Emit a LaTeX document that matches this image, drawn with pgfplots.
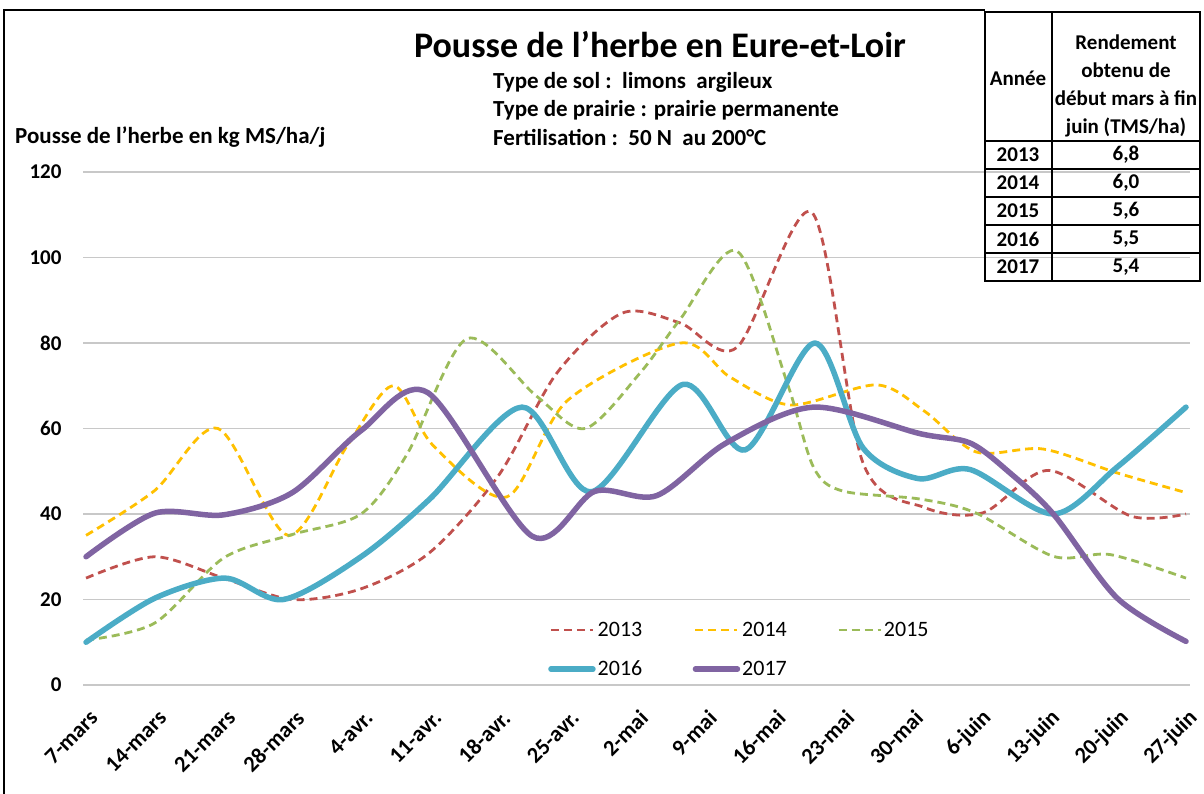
\documentclass[border=0pt]{standalone}
\usepackage{fontspec}
\setmainfont{Carlito}
\usepackage{pgfplots}
\pgfplotsset{compat=1.18}
\definecolor{c13}{HTML}{C0504D}
\definecolor{c14}{HTML}{FFC000}
\definecolor{c15}{HTML}{9BBB59}
\definecolor{c16}{HTML}{4BACC6}
\definecolor{c17}{HTML}{8064A2}
\definecolor{gridc}{HTML}{C8C8C8}
\begin{document}
\begin{tikzpicture}
\path[use as bounding box] (0bp,0bp) rectangle (1204bp,794bp);
\draw[line width=2.5bp] (4bp,0bp) -- (4bp,784bp) -- (985bp,784bp);
\begin{axis}[
  at={(83bp,109bp)}, anchor=south west,
  scale only axis, width=1107bp, height=513bp,
  xmin=-0.044, xmax=16.058, ymin=0, ymax=120,
  axis line style={draw=none},
  ytick={0,20,...,120},
  xtick={0,...,16},
  xticklabels={7-mars,14-mars,21-mars,28-mars,4-avr.,11-avr.,18-avr.,25-avr.,2-mai,9-mai,16-mai,23-mai,30-mai,6-juin,13-juin,20-juin,27-juin},
  major tick length=0,
  ymajorgrids, grid style={gridc, line width=1.3bp},
  /pgf/number format/assume math mode=true,
  yticklabel style={font=\fontsize{21bp}{24bp}\selectfont\bfseries, xshift=-18bp},
  xticklabel style={font=\fontsize{22.5bp}{26bp}\selectfont\bfseries, rotate=45, anchor=east, inner sep=2bp, xshift=-13bp, yshift=-26.4bp},
  clip=false,
  legend columns=3,
  legend style={draw=none, fill=none, at={(axis cs:6.72,15.2)}, anchor=north west,
    font=\fontsize{22bp}{26bp}\selectfont, row sep=19bp, inner sep=0pt},
  legend cell align=left,
  legend image code/.code={\draw[#1] (0bp,0bp) -- (42bp,0bp);},
]
\addplot[c13, line width=2.8bp, dash pattern=on 8bp off 5bp, smooth] coordinates {
(0,25)(1,30)(2,25)(3,20)(4,22.5)(5,31)(6,49)(6.85,73)(7.8,87)(8.64,84.7)(9.47,79)(10.56,110.5)(11.3,52)(12.2,41.5)(13.05,40.3)(14,50.2)(15.2,39.5)(16,40)};
\addlegendentry{\makebox[93bp][l]{2013}}
\addplot[c14, line width=2.8bp, dash pattern=on 8bp off 5bp, smooth] coordinates {
(0,35)(1,45.5)(1.92,60)(2.94,35)(3.8,56)(4.47,70)(5.05,56)(6.12,44)(7,66.5)(8.64,80)(9.37,72)(10.25,65.5)(11.5,70.2)(12.2,64)(12.95,54.5)(13.92,55.2)(15,49.6)(16,45)};
\addlegendentry{\makebox[93bp][l]{2014}}
\addplot[c15, line width=2.8bp, dash pattern=on 8bp off 5bp, smooth] coordinates {
(0,10.5)(1,14.5)(2,29.7)(3,35.2)(4,40)(4.67,54)(5.54,81)(6.55,67.6)(7.26,60)(8.06,73)(8.64,85.5)(9.47,101.5)(10.2,70.6)(10.58,51)(11.0,45.4)(12.13,43.5)(12.95,40.2)(14.07,30.1)(14.9,30.5)(16,25)};
\addlegendentry{\makebox[93bp][l]{2015}}
\addplot[c16, line width=5.5bp, line cap=round, line join=round, smooth] coordinates {
(0,10)(1,20.3)(2.02,25)(2.87,20)(4,30)(5,43.5)(6.34,65)(7.35,45.2)(8.68,70.3)(9.59,55)(10.6,80)(11.3,55.5)(12.1,48.3)(12.86,50.4)(14.07,40)(15,51)(16,65)};
\addlegendentry{\makebox[93bp][l]{2016}}
\addplot[c17, line width=5.5bp, line cap=round, line join=round, smooth] coordinates {
(0,30)(1,40.2)(2,39.8)(3,45)(4,59.5)(4.97,68.4)(6.49,34.8)(7.4,45.3)(8.3,44.3)(9.3,56.5)(10.58,65)(12.13,58.8)(12.86,56.6)(13.44,49.6)(14.07,40)(15,20.3)(16,10.2)};
\addlegendentry{\makebox[93bp][l]{2017}}
\end{axis}
% titles
\node[font=\fontsize{36bp}{40bp}\selectfont\bfseries] at (660bp,749bp) {Pousse de l'herbe en Eure-et-Loir};
\begin{scope}[every node/.style={anchor=west, inner sep=0pt, font=\fontsize{23bp}{26bp}\selectfont\bfseries}]
\node at (493bp,712bp) {Type de sol :\ \ limons\ \ argileux};
\node at (493bp,684bp) {Type de prairie : prairie permanente};
\node at (493bp,656bp) {Fertilisation :\ \ 50 N\ \ au 200°C};
\node at (15bp,657bp) {Pousse de l'herbe en kg MS/ha/j};
\end{scope}
% table
\begin{scope}[line width=1.8bp]
\draw (985bp,782bp) rectangle (1200bp,513bp);
\draw (1052bp,782bp) -- (1052bp,513bp);
\foreach \yy in {653,625,597,569,541} {\draw (985bp,\yy bp) -- (1200bp,\yy bp);}
\end{scope}
\begin{scope}[every node/.style={inner sep=0pt, font=\fontsize{21bp}{28bp}\selectfont\bfseries}]
\node at (1018bp,716bp) {Année};
\node[align=center] at (1126bp,708bp) {Rendement\\obtenu de\\début mars à fin\\juin (TMS/ha)};
\foreach \yy/\a/\v in {639/2013/{6,8},611/2014/{6,0},583/2015/{5,6},555/2016/{5,5},527/2017/{5,4}} {
  \node at (1018bp,\yy bp) {\a};
  \node at (1126bp,\yy bp) {\v};
}
\end{scope}
\end{tikzpicture}
\end{document}
